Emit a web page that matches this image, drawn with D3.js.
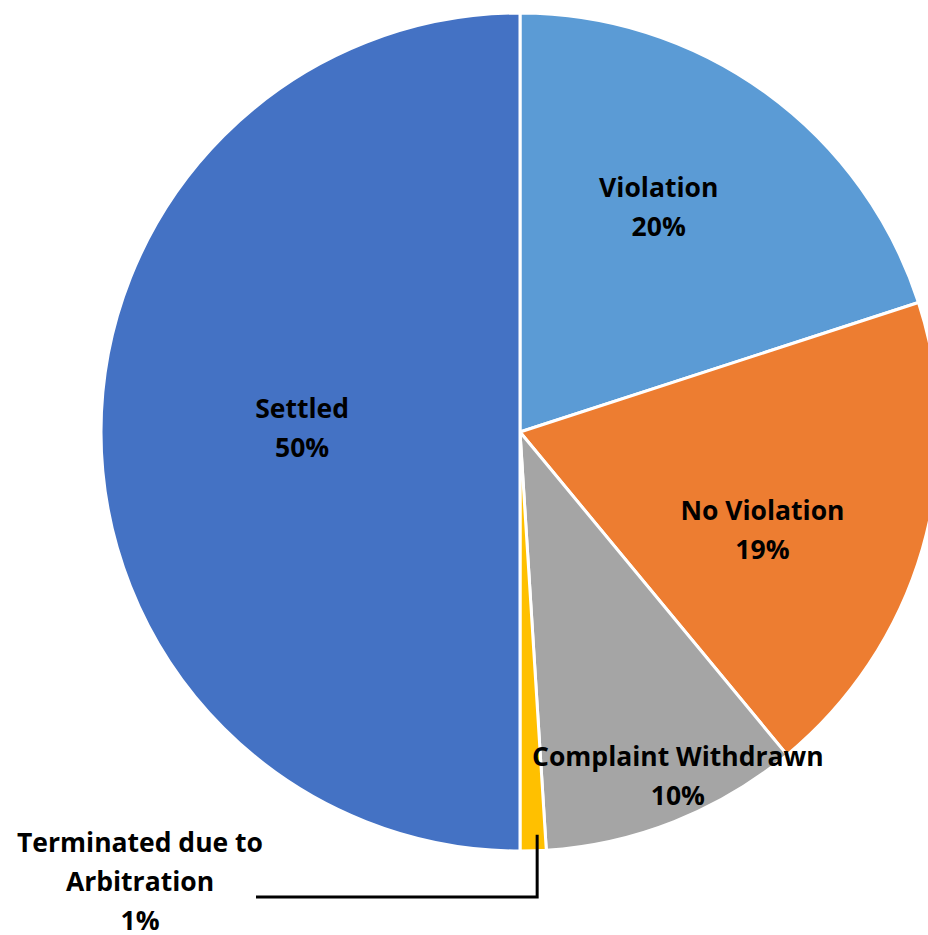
<!DOCTYPE html>
<html>
<head>
<meta charset="utf-8">
<script src="https://cdn.jsdelivr.net/npm/d3@7"></script>
<style>
  body { margin: 0; background: #fff; }
  text { font-family: "Open Sans", Lato, sans-serif; font-weight: bold; fill: #000; }
</style>
</head>
<body>
<div id="chart"></div>
<script>
// data
var categories = ['Violation', 'No Violation', 'Complaint Withdrawn', 'Terminated due to Arbitration', 'Settled'];
var values = [20, 19, 10, 1, 50];
var colors = ['#5b9bd5', '#ed7d31', '#a5a5a5', '#ffc000', '#4472c4'];

// label lines (text only, no positions)
var labelLines = [
  ['Violation', '20%'],
  ['No Violation', '19%'],
  ['Complaint Withdrawn', '10%'],
  ['Terminated due to', 'Arbitration', '1%'],
  ['Settled', '50%']
];

var width = 928, height = 935;
var cx = 520, cy = 432, radius = 419;

var svg = d3.select('#chart').append('svg')
  .attr('width', width).attr('height', height);

var pie = d3.pie().sort(null).value(function(d) { return d; });
var arcs = pie(values);

var arc = d3.arc().innerRadius(0).outerRadius(radius);

var g = svg.append('g').attr('transform', 'translate(' + cx + ',' + cy + ')');

g.selectAll('path')
  .data(arcs)
  .join('path')
  .attr('d', arc)
  .attr('fill', function(d, i) { return colors[i]; })
  .attr('stroke', '#fff')
  .attr('stroke-width', 3)
  .attr('stroke-linejoin', 'round');

// label placement, tuned to match excel layout: [radius factor, angle shift in degrees]
var labelTweak = [[0.63, -4.3], [0.625, 6], [0.905, -3], null, [0.52, 1]];
var lineH = 39;

arcs.forEach(function(a, i) {
  var lines = labelLines[i];
  var x, y;
  if (labelTweak[i]) {
    var mid = (a.startAngle + a.endAngle) / 2 + labelTweak[i][1] * Math.PI / 180;
    var r = radius * labelTweak[i][0];
    x = r * Math.sin(mid);
    y = -r * Math.cos(mid) + 9;
  } else {
    x = -380; y = 459;
  }
  var t = g.append('text')
    .attr('text-anchor', 'middle')
    .attr('font-size', 26.5);
  lines.forEach(function(s, k) {
    t.append('tspan')
      .attr('x', x)
      .attr('y', y + (k - (lines.length - 1) / 2) * lineH)
      .text(s);
  });
});

// leader line for the small slice
var small = arcs[3];
var smallMid = (small.startAngle + small.endAngle) / 2;
var edgeX = radius * Math.sin(smallMid) + 4;
var edgeY = -radius * Math.cos(smallMid) - 16;
g.append('path')
  .attr('d', d3.line()([[edgeX, edgeY], [edgeX, 465], [-264, 465]]))
  .attr('fill', 'none')
  .attr('stroke', '#000')
  .attr('stroke-width', 3);
</script>
</body>
</html>
